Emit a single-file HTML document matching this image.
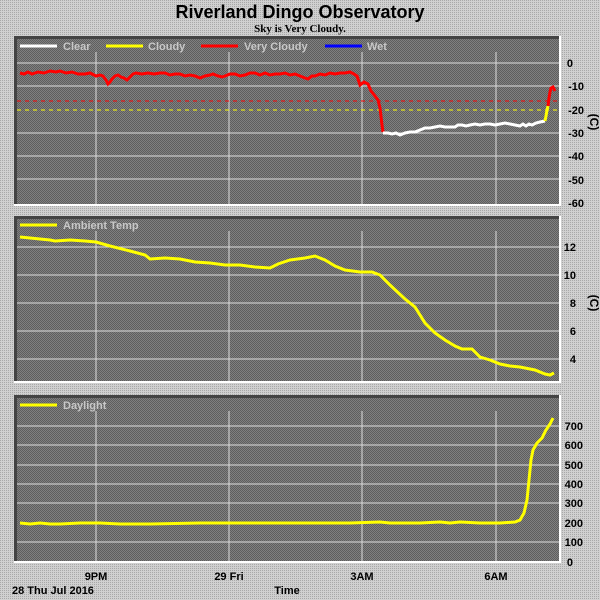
<!DOCTYPE html>
<html><head><meta charset="utf-8"><style>
html,body{margin:0;padding:0;background:#c4c4c4;}
svg{display:block;font-family:"Liberation Sans",sans-serif;}
</style></head><body>
<svg width="600" height="600" xmlns="http://www.w3.org/2000/svg">
<defs>
<pattern id="bg" width="2" height="2" patternUnits="userSpaceOnUse"><rect width="2" height="2" fill="#d0d0d0"/><rect width="1" height="1" fill="#a8a8a8"/></pattern>
<pattern id="pn" width="2" height="2" patternUnits="userSpaceOnUse"><rect width="2" height="2" fill="#808080"/><rect width="1" height="1" fill="#5e5e5e"/><rect x="1" y="1" width="1" height="1" fill="#5e5e5e"/></pattern>
</defs>
<rect width="600" height="600" fill="url(#bg)"/>
<text x="300" y="18" text-anchor="middle" font-size="18" font-weight="bold">Riverland Dingo Observatory</text>
<text x="300" y="32" text-anchor="middle" font-size="11" font-weight="bold" font-family="Liberation Serif,serif">Sky is Very Cloudy.</text>

<!-- Panel 1 -->
<rect x="14" y="36" width="547" height="170" fill="url(#pn)"/>
<rect x="14" y="36" width="547" height="3" fill="#444"/><rect x="14" y="36" width="3" height="170" fill="#444"/>
<rect x="14" y="204" width="547" height="2" fill="#fff"/><rect x="559" y="36" width="2" height="170" fill="#fff"/>
<g stroke="#ddd" stroke-width="1">
<line x1="17" x2="559" y1="63" y2="63"/><line x1="17" x2="559" y1="86" y2="86"/><line x1="17" x2="559" y1="133" y2="133"/><line x1="17" x2="559" y1="156" y2="156"/><line x1="17" x2="559" y1="179" y2="179"/>
<line x1="96" x2="96" y1="52" y2="204"/><line x1="229" x2="229" y1="52" y2="204"/><line x1="362" x2="362" y1="52" y2="204"/><line x1="496" x2="496" y1="52" y2="204"/>
</g>
<line x1="17" x2="559" y1="101" y2="101" stroke="#f00" stroke-dasharray="4,4"/>
<line x1="17" x2="559" y1="110" y2="110" stroke="#ff0" stroke-dasharray="4,4"/>
<g font-size="11" font-weight="bold" fill="#c8c8c8">
<line x1="20" x2="57" y1="46" y2="46" stroke="#fff" stroke-width="3"/><text x="63" y="50">Clear</text>
<line x1="106" x2="143" y1="46" y2="46" stroke="#ff0" stroke-width="3"/><text x="148" y="50">Cloudy</text>
<line x1="201" x2="238" y1="46" y2="46" stroke="#f00" stroke-width="3"/><text x="244" y="50">Very Cloudy</text>
<line x1="325" x2="362" y1="46" y2="46" stroke="#00f" stroke-width="3"/><text x="367" y="50">Wet</text>
</g>
<polyline fill="none" stroke="#f00" stroke-width="3" points="20,73 24,74 28,72 32,74 38,72 44,73 50,71 56,72 60,71 66,73 72,72 78,74 85,74 90,73 96,76 100,75 103,76 106,80 108,84 110,82 112,79 115,76 118,75 121,77 124,78 127,80 130,77 133,74 136,73 142,74 148,73 154,74 160,73 165,73 170,75 175,74 180,74 185,76 190,75 195,76 200,78 205,76 210,75 213,74 218,76 222,77 225,76 230,74 235,74 240,76 245,75 250,73 255,73 260,75 265,73 270,75 275,74 280,74 285,73 290,75 295,74 300,76 305,78 308,79 312,76 315,76 320,74 325,75 330,73 335,74 340,73 345,73 350,72 354,74 357,76 360,85 364,82 368,84 371,91 375,96 378,100 380,108 382,125 383,132"/>
<polyline fill="none" stroke="#fff" stroke-width="3" points="383,133 388,133 392,134 396,133 400,135 405,133 410,132 415,132 420,130 425,128 430,128 435,127 440,126 445,127 450,127 455,127 458,125 462,125 466,126 470,125 475,124 480,125 485,124 490,124 495,125 500,124 505,123 510,124 515,125 520,126 523,124 526,126 529,124 532,125 536,123 540,122 545,121"/>
<polyline fill="none" stroke="#ff0" stroke-width="3" points="545,121 546,116 547,110 548,106"/>
<polyline fill="none" stroke="#f00" stroke-width="3" points="548,106 549,98 550,92 551,88 553,87 555,91"/>
<g font-size="11" font-weight="bold" text-anchor="end">
<text x="573" y="67">0</text><text x="584" y="90">-10</text><text x="584" y="114">-20</text><text x="584" y="137">-30</text><text x="584" y="160">-40</text><text x="584" y="184">-50</text><text x="584" y="207">-60</text>
</g>
<text x="590" y="122" font-size="12" font-weight="bold" transform="rotate(90 590 122)" text-anchor="middle">(C)</text>

<!-- Panel 2 -->
<rect x="14" y="216" width="547" height="167" fill="url(#pn)"/>
<rect x="14" y="216" width="547" height="3" fill="#444"/><rect x="14" y="216" width="3" height="167" fill="#444"/>
<rect x="14" y="381" width="547" height="2" fill="#fff"/><rect x="559" y="216" width="2" height="167" fill="#fff"/>
<g stroke="#ddd" stroke-width="1">
<line x1="17" x2="559" y1="247" y2="247"/><line x1="17" x2="559" y1="275" y2="275"/><line x1="17" x2="559" y1="303" y2="303"/><line x1="17" x2="559" y1="331" y2="331"/><line x1="17" x2="559" y1="359" y2="359"/>
<line x1="96" x2="96" y1="231" y2="381"/><line x1="229" x2="229" y1="231" y2="381"/><line x1="362" x2="362" y1="231" y2="381"/><line x1="496" x2="496" y1="231" y2="381"/>
</g>
<line x1="20" x2="57" y1="225" y2="225" stroke="#ff0" stroke-width="3"/><text x="63" y="229" font-size="11" font-weight="bold" fill="#c8c8c8">Ambient Temp</text>
<polyline fill="none" stroke="#ff0" stroke-width="3" points="20,237 30,238 40,239 50,240 55,241 70,240 85,241 96,242 110,246 130,251 145,255 150,259 165,258 180,259 195,262 210,263 225,265 240,265 255,267 270,268 278,264 290,260 305,258 315,256 325,260 335,266 345,270 360,272 372,272 380,275 390,285 405,299 415,307 425,323 435,333 445,340 455,346 462,349 472,349 480,357 490,360 500,364 510,366 520,367 535,370 545,374 550,375 554,373"/>
<g font-size="11" font-weight="bold" text-anchor="end">
<text x="576" y="251">12</text><text x="576" y="279">10</text><text x="576" y="307">8</text><text x="576" y="335">6</text><text x="576" y="363">4</text>
</g>
<text x="590" y="303" font-size="12" font-weight="bold" transform="rotate(90 590 303)" text-anchor="middle">(C)</text>

<!-- Panel 3 -->
<rect x="14" y="395" width="547" height="168" fill="url(#pn)"/>
<rect x="14" y="395" width="547" height="3" fill="#444"/><rect x="14" y="395" width="3" height="168" fill="#444"/>
<rect x="14" y="561" width="547" height="2" fill="#fff"/><rect x="559" y="395" width="2" height="168" fill="#fff"/>
<g stroke="#ddd" stroke-width="1">
<line x1="17" x2="559" y1="426" y2="426"/><line x1="17" x2="559" y1="445" y2="445"/><line x1="17" x2="559" y1="465" y2="465"/><line x1="17" x2="559" y1="484" y2="484"/><line x1="17" x2="559" y1="503" y2="503"/><line x1="17" x2="559" y1="542" y2="542"/>
<line x1="96" x2="96" y1="411" y2="561"/><line x1="229" x2="229" y1="411" y2="561"/><line x1="362" x2="362" y1="411" y2="561"/><line x1="496" x2="496" y1="411" y2="561"/>
</g>
<line x1="20" x2="57" y1="405" y2="405" stroke="#ff0" stroke-width="3"/><text x="63" y="409" font-size="11" font-weight="bold" fill="#c8c8c8">Daylight</text>
<polyline fill="none" stroke="#ff0" stroke-width="3" points="20,523 30,524 40,523 50,524 60,524 80,523 100,523 120,524 150,524 200,523 250,523 300,523 350,523 380,522 390,523 400,523 420,523 440,522 450,523 460,522 480,523 500,523 515,522 520,520 524,513 527,500 529,480 531,460 533,450 537,443 542,438 546,430 550,424 553,418"/>
<g font-size="11" font-weight="bold" text-anchor="end">
<text x="583" y="430">700</text><text x="583" y="449">600</text><text x="583" y="469">500</text><text x="583" y="488">400</text><text x="583" y="507">300</text><text x="583" y="527">200</text><text x="583" y="546">100</text><text x="573" y="566">0</text>
</g>

<g font-size="11" font-weight="bold" text-anchor="middle">
<text x="96" y="580">9PM</text><text x="229" y="580">29 Fri</text><text x="362" y="580">3AM</text><text x="496" y="580">6AM</text>
<text x="287" y="594">Time</text>
</g>
<text x="12" y="594" font-size="11" font-weight="bold">28 Thu Jul 2016</text>
</svg>
</body></html>
